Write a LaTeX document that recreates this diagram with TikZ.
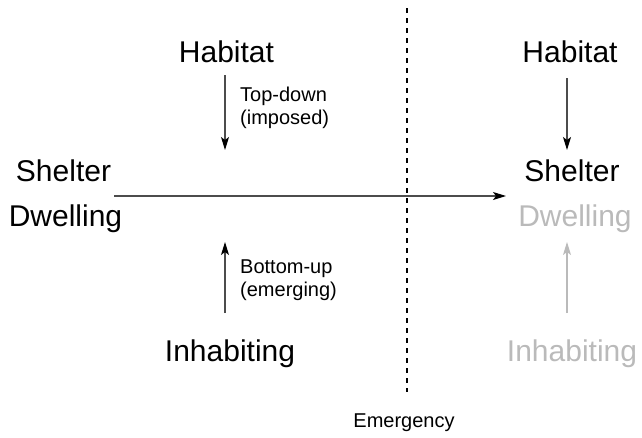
\documentclass[tikz,border=0pt]{standalone}
\usepackage{fontspec}
\setmainfont{Liberation Sans}
\usepackage[dvipsnames,rgb]{xcolor}
\usepackage{tikz}
\usetikzlibrary{positioning, arrows.meta}

\colorlet{faded}{black!27}
\tikzset{
    bigtext/.style={inner sep=0pt, font=\fontsize{30}{36}\selectfont},
    smalltext/.style={inner sep=0pt, align=left, font=\fontsize{20}{22.5}\selectfont},
    flow/.style={black!70, line width=1.2pt,
        -{Stealth[length=13pt, width=8pt, inset=3pt, black]}},
    fadedflow/.style={faded, line width=1.2pt,
        -{Stealth[length=13pt, width=8pt, inset=3pt, faded]}},
    divider/.style={black, line width=1.4pt, dash pattern=on 5pt off 5pt}
}

\begin{document}
\begin{tikzpicture}[x=1pt, y=-1pt]
        \useasboundingbox (0,0) rectangle (642,437);

        % left side: before the emergency
        \node[bigtext, anchor=base] (habitatL) at (226.5,62) {Habitat};
        \node[bigtext, anchor=base] (shelterL) at (63.5,181) {Shelter};
        \node[bigtext, anchor=base] (dwellingL) at (65.5,226) {Dwelling};
        \node[bigtext, anchor=base] (inhabitL) at (230,361) {Inhabiting};

        \coordinate (topdownTip) at (225,150);
        \coordinate (bottomupTail) at (225,313);
        \coordinate (bottomupTip) at (225,242);

        \draw[flow] (habitatL.south -| topdownTip) ++(0,13)
            -- (topdownTip);
        \node[smalltext, anchor=base west] (topdown)
            at (240,124) {Top-down\\(imposed)};

        \draw[flow] (bottomupTail) -- (bottomupTip);
        \node[smalltext, anchor=base west] (bottomup)
            at (240,296) {Bottom-up\\(emerging)};

        % the emergency
        \coordinate (lineTop) at (407,8);
        \coordinate (lineBottom) at (407,392);
        \draw[divider] (lineTop) -- (lineBottom);
        \node[smalltext, anchor=base] (emergency)
            at (404,427) {Emergency};

        % right side: after the emergency
        \node[bigtext, anchor=base] (habitatR) at (570,62) {Habitat};
        \node[bigtext, anchor=base] (shelterR) at (572,181) {Shelter};
        \node[bigtext, anchor=base, faded] (dwellingR) at (575,226) {Dwelling};
        \node[bigtext, anchor=base, faded] (inhabitR) at (572,361) {Inhabiting};

        \coordinate (axisStart) at (114,196);
        \coordinate (axisTip) at (506,196);
        \draw[flow] (axisStart) -- (axisTip);

        \draw[flow] (567,78) -- (567,150);
        \draw[fadedflow] (567,313) -- (567,242);
\end{tikzpicture}
\end{document}
